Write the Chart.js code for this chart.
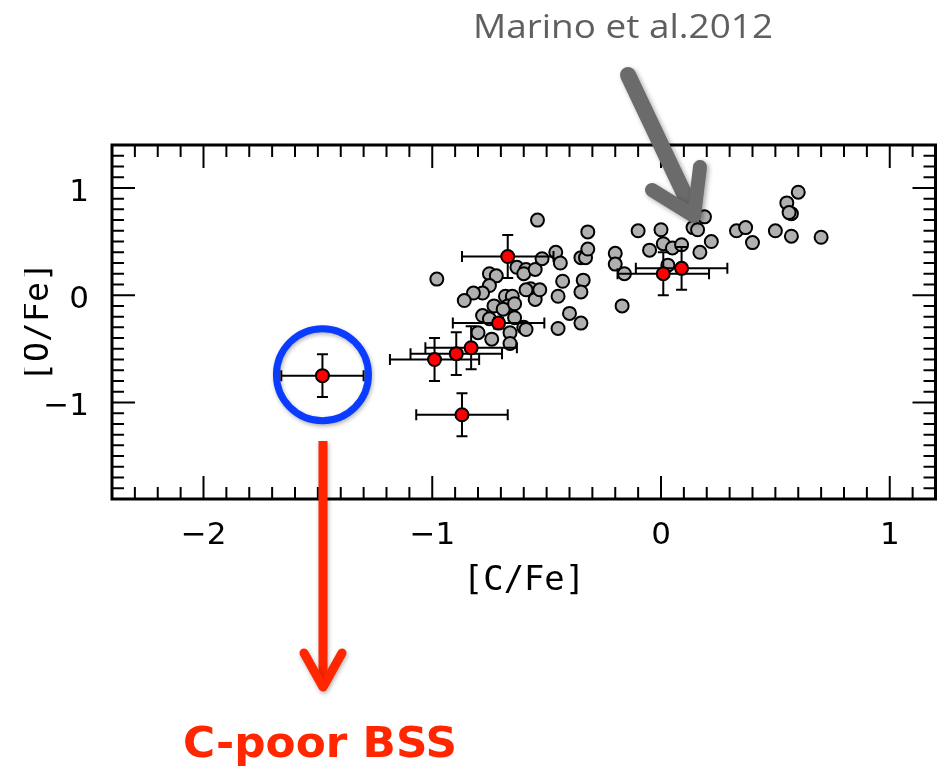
<!DOCTYPE html>
<html>
<head>
<meta charset="utf-8">
<script src="https://cdn.jsdelivr.net/npm/chart.js@4/dist/chart.umd.min.js"></script>
<style>
  html, body { margin: 0; padding: 0; background: #fff; }
  #wrap { width: 944px; height: 770px; position: relative; }
</style>
</head>
<body>
<div id="wrap"><canvas id="c"></canvas></div>
<script>
// Marino et al. 2012 giants: [C/Fe] and [O/Fe]
const grayCFe = [-0.54, -0.98, -0.75, -0.72, -0.63, -0.59, -0.60, -0.55, -0.52, -0.75,
                 -0.78, -0.82, -0.86, -0.68, -0.65, -0.57, -0.55, -0.67, -0.73, -0.69,
                 -0.78, -0.64, -0.75, -0.60, -0.66, -0.80, -0.74, -0.66, -0.32, -0.46,
                 -0.44, -0.35, -0.33, -0.32, -0.20, -0.20, -0.43, -0.34, -0.35, -0.45,
                 -0.53, -0.40, -0.35, -0.45, -0.17, -0.10, -0.05, -0.16, 0.00, 0.01,
                 0.05, 0.09, 0.03, 0.17, 0.22, 0.14, 0.16, 0.19, 0.33, 0.37,
                 0.40, 0.50, 0.57, 0.55, 0.60, 0.57, 0.56, 0.70, -0.59, -0.64, -0.59];
const grayOFe = [0.70, 0.15, 0.20, 0.18, 0.26, 0.24, 0.20, 0.24, 0.34, 0.09,
                 0.02, 0.02, -0.05, -0.01, -0.01, 0.06, -0.04, -0.10, -0.10, -0.13,
                 -0.19, -0.21, -0.22, -0.30, -0.35, -0.35, -0.41, -0.45, 0.59, 0.40,
                 0.30, 0.35, 0.35, 0.43, 0.39, 0.29, 0.13, 0.14, 0.03, -0.01,
                 0.05, -0.17, -0.26, -0.31, -0.10, 0.60, 0.42, 0.20, 0.61, 0.48,
                 0.44, 0.47, 0.28, 0.40, 0.50, 0.63, 0.61, 0.73, 0.60, 0.63,
                 0.49, 0.60, 0.55, 0.86, 0.96, 0.76, 0.77, 0.54, 0.05, -0.08, -0.32];

// Blue stragglers with their uncertainties
const bssCFe  = [-1.48, -0.99, -0.895, -0.83, -0.87, -0.71, -0.67, 0.01, 0.09];
const bssOFe  = [-0.75, -0.60, -0.545, -0.49, -1.115, -0.26, 0.36, 0.20, 0.25];
const bssCErr = [0.18, 0.195, 0.20, 0.20, 0.20, 0.20, 0.20, 0.20, 0.20];
const bssOErr = [0.20, 0.20, 0.20, 0.20, 0.20, 0.05, 0.20, 0.20, 0.20];

// Axis ranges and labelled ticks
const xRange = [-2.4, 1.2];
const yRange = [-1.9, 1.4];
const xTickValues = [-2, -1, 0, 1];
const xTickLabels = ['\u22122', '\u22121', '0', '1'];
const yTickValues = [-1, 0, 1];
const yTickLabels = ['\u22121', '0', '1'];

const grayPoints = grayCFe.map((c, i) => ({ x: c, y: grayOFe[i] }));
const bssPoints = bssCFe.map((c, i) => ({ x: c, y: bssOFe[i] }));

// draw text squeezed/stretched to a given width
function fitText(ctx, text, cx, baseY, width, font, color) {
  ctx.save();
  ctx.font = font;
  ctx.fillStyle = color;
  const w = ctx.measureText(text).width;
  const s = width / w;
  ctx.translate(cx, baseY);
  ctx.scale(s, 1);
  ctx.textAlign = 'center';
  ctx.textBaseline = 'alphabetic';
  ctx.fillText(text, 0, 0);
  ctx.restore();
}

const errorBars = {
  id: 'errorBars',
  beforeDatasetDraw(chart, args) {
    if (args.index !== 0) return;
    const { ctx, scales: { x, y } } = chart;
    ctx.save();
    ctx.strokeStyle = '#000';
    ctx.lineWidth = 2;
    const cap = 5.5;
    bssCFe.forEach((c, i) => {
      const px = x.getPixelForValue(c), py = y.getPixelForValue(bssOFe[i]);
      const x0 = x.getPixelForValue(c - bssCErr[i]), x1 = x.getPixelForValue(c + bssCErr[i]);
      const y0 = y.getPixelForValue(bssOFe[i] - bssOErr[i]), y1 = y.getPixelForValue(bssOFe[i] + bssOErr[i]);
      ctx.beginPath();
      ctx.moveTo(x0, py); ctx.lineTo(x1, py);
      ctx.moveTo(x0, py - cap); ctx.lineTo(x0, py + cap);
      ctx.moveTo(x1, py - cap); ctx.lineTo(x1, py + cap);
      ctx.moveTo(px, y0); ctx.lineTo(px, y1);
      ctx.moveTo(px - cap, y0); ctx.lineTo(px + cap, y0);
      ctx.moveTo(px - cap, y1); ctx.lineTo(px + cap, y1);
      ctx.stroke();
    });
    ctx.restore();
  }
};

const frameAndNotes = {
  id: 'frameAndNotes',
  afterDraw(chart) {
    const { ctx, chartArea: a, scales: { x, y } } = chart;
    ctx.save();

    // minor / major ticks on all four sides, pointing inward
    ctx.strokeStyle = '#000';
    ctx.lineWidth = 2;
    ctx.beginPath();
    for (let k = Math.round(x.min * 10) + 1; k < Math.round(x.max * 10); k++) {
      const px = x.getPixelForValue(k / 10);
      const len = (k % 10 === 0) ? 23 : 12;
      ctx.moveTo(px, a.bottom); ctx.lineTo(px, a.bottom - len);
      ctx.moveTo(px, a.top); ctx.lineTo(px, a.top + len);
    }
    for (let k = Math.round(y.min * 10) + 1; k < Math.round(y.max * 10); k++) {
      const py = y.getPixelForValue(k / 10);
      const len = (k % 10 === 0) ? 23 : 12;
      ctx.moveTo(a.left, py); ctx.lineTo(a.left + len, py);
      ctx.moveTo(a.right, py); ctx.lineTo(a.right - len, py);
    }
    ctx.stroke();

    // frame
    ctx.lineWidth = 3;
    ctx.strokeRect(a.left, a.top, a.right - a.left, a.bottom - a.top);

    // tick labels
    ctx.fillStyle = '#000';
    ctx.font = '31px "DejaVu Sans"';
    ctx.textBaseline = 'alphabetic';
    ctx.textAlign = 'center';
    xTickValues.forEach((v, i) => {
      ctx.fillText(xTickLabels[i], x.getPixelForValue(v), a.bottom + 45);
    });
    ctx.textAlign = 'right';
    yTickValues.forEach((v, i) => {
      ctx.fillText(yTickLabels[i], 89, y.getPixelForValue(v) + 13);
    });

    // axis titles
    fitText(ctx, '[C/Fe]', 524, 590, 122, '34px "DejaVu Sans Mono"', '#000');
    ctx.save();
    ctx.beginPath();
    ctx.rect(24, 0, 200, 770);
    ctx.clip();
    ctx.translate(48, 322);
    ctx.rotate(-Math.PI / 2);
    fitText(ctx, '[O/Fe]', 0, 0, 120, '34px "DejaVu Sans Mono"', '#000');
    ctx.restore();

    // reference label and its arrow
    fitText(ctx, 'Marino et al.2012', 623, 38, 300, '32px "Open Sans"', '#5f5f5f');
    ctx.save();
    ctx.shadowColor = 'rgba(0,0,0,0.35)';
    ctx.shadowBlur = 5;
    ctx.shadowOffsetX = 2;
    ctx.shadowOffsetY = 2;
    ctx.strokeStyle = '#6b6b6b';
    ctx.lineCap = 'round';
    ctx.lineJoin = 'round';
    ctx.lineWidth = 16;
    ctx.beginPath();
    ctx.moveTo(628, 75); ctx.lineTo(690, 206);
    ctx.stroke();
    ctx.lineWidth = 14;
    ctx.beginPath();
    ctx.moveTo(652, 190); ctx.lineTo(694, 216); ctx.lineTo(700, 167);
    ctx.stroke();
    ctx.restore();

    // circle around the carbon-poor star
    ctx.save();
    ctx.shadowColor = 'rgba(0,0,0,0.3)';
    ctx.shadowBlur = 4;
    ctx.shadowOffsetX = 1;
    ctx.shadowOffsetY = 2;
    ctx.strokeStyle = '#0a3cff';
    ctx.lineWidth = 7;
    ctx.beginPath();
    ctx.arc(x.getPixelForValue(bssCFe[0]), y.getPixelForValue(bssOFe[0]) - 1, 46, 0, Math.PI * 2);
    ctx.stroke();
    ctx.restore();

    // red pointer and label
    ctx.save();
    ctx.shadowColor = 'rgba(0,0,0,0.3)';
    ctx.shadowBlur = 4;
    ctx.shadowOffsetX = 1;
    ctx.shadowOffsetY = 2;
    ctx.strokeStyle = '#ff2600';
    ctx.lineWidth = 9;
    ctx.beginPath();
    ctx.moveTo(323, 441); ctx.lineTo(323, 684);
    ctx.stroke();
    ctx.lineCap = 'round';
    ctx.lineJoin = 'round';
    ctx.lineWidth = 9;
    ctx.beginPath();
    ctx.moveTo(304, 653); ctx.lineTo(323, 687); ctx.lineTo(342, 653);
    ctx.stroke();
    ctx.restore();
    fitText(ctx, 'C-poor BSS', 320, 757, 274, 'bold 42px "DejaVu Sans"', '#ff2600');

    ctx.restore();
  }
};

new Chart(document.getElementById('c'), {
  type: 'scatter',
  data: {
    datasets: [
      {
        label: 'BSS',
        data: bssPoints,
        order: 0,
        pointRadius: 6.5,
        pointHoverRadius: 6.5,
        pointBackgroundColor: '#ff0000',
        pointBorderColor: '#000',
        pointBorderWidth: 2
      },
      {
        label: 'Marino et al. 2012',
        data: grayPoints,
        order: 1,
        pointRadius: 6.5,
        pointHoverRadius: 6.5,
        pointBackgroundColor: '#b0b0b0',
        pointBorderColor: '#000',
        pointBorderWidth: 2
      }
    ]
  },
  options: {
    responsive: true,
    maintainAspectRatio: false,
    animation: false,
    events: [],
    layout: { padding: { left: 112, right: 3, top: 145, bottom: 271 } },
    plugins: { legend: { display: false }, tooltip: { enabled: false } },
    scales: {
      x: { type: 'linear', min: xRange[0], max: xRange[1], display: false },
      y: { type: 'linear', min: yRange[0], max: yRange[1], display: false }
    }
  },
  plugins: [errorBars, frameAndNotes]
});
</script>
</body>
</html>
